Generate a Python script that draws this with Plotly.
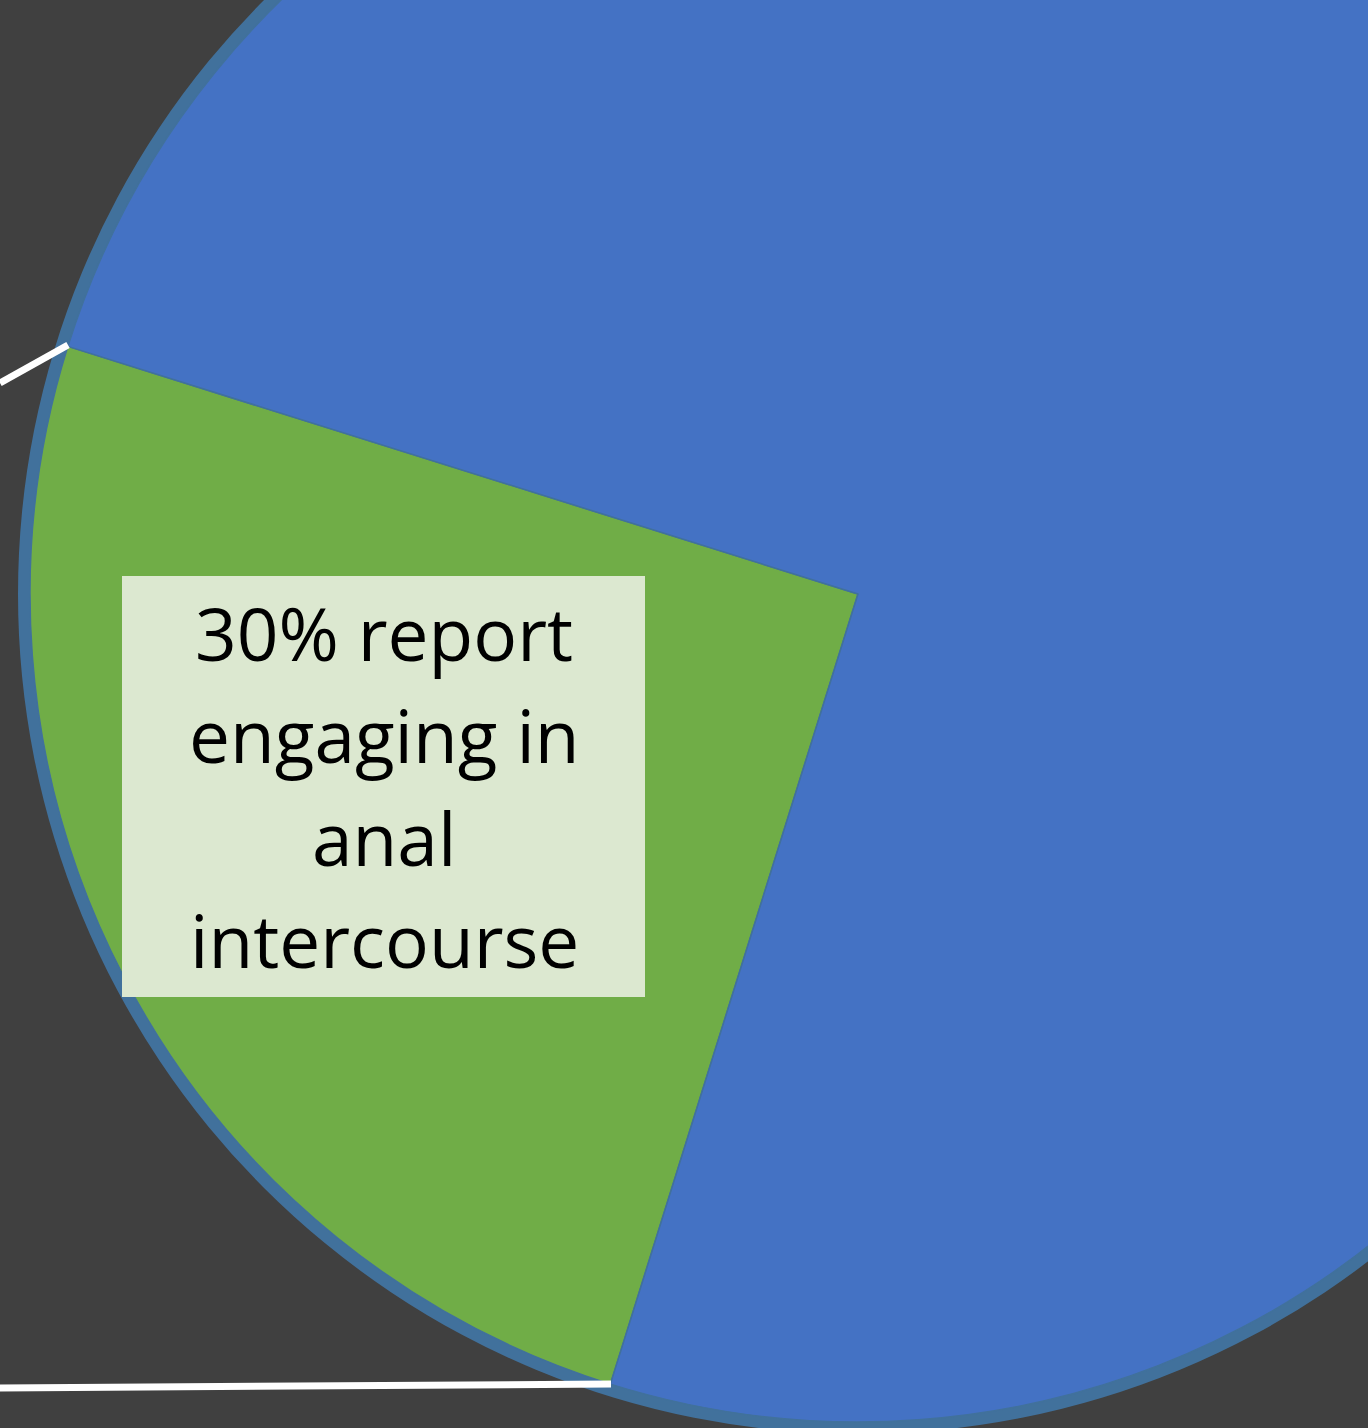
import plotly.graph_objects as go

# ---- data ----
slice_labels = ["Anal intercourse", "Other"]
slice_values = [25, 75]
slice_colors = ["#70AD47", "#4472C4"]
label_lines = ["30% report", "engaging in", "anal", "intercourse"]

# ---- page geometry (figure is larger than the window and shifted) ----
FIG_W, FIG_H = 1700, 1680
SHIFT_TOP = -246          # div offset in the page
BG = "#404040"
BORDER = "#41719C"


def px(vx):
    return vx / FIG_W


def py(vy):
    return 1 - (vy - SHIFT_TOP) / FIG_H


fig = go.Figure()

# outer ring (pie outline band)
fig.add_trace(go.Pie(
    values=[1], labels=["ring"], marker=dict(colors=[BORDER], line=dict(width=0)),
    domain=dict(x=[18 / FIG_W, 1698 / FIG_W], y=[0, 1]),
    textinfo="none", hoverinfo="skip", showlegend=False, sort=False,
))

# main pie
fig.add_trace(go.Pie(
    values=slice_values, labels=slice_labels,
    marker=dict(colors=slice_colors, line=dict(color=BORDER, width=1.5)),
    domain=dict(x=[30 / FIG_W, 1686 / FIG_W], y=[12 / FIG_H, 1668 / FIG_H]),
    direction="clockwise", rotation=197.4, sort=False,
    textinfo="none", hoverinfo="skip", showlegend=False,
))

shapes = [
    dict(type="rect", xref="paper", yref="paper",
         x0=px(122), x1=px(645), y0=py(997), y1=py(576),
         fillcolor="#DCE8D0", line=dict(width=0), layer="above"),
    dict(type="line", xref="paper", yref="paper",
         x0=px(0), y0=py(383), x1=px(68), y1=py(345),
         line=dict(color="white", width=7), layer="above"),
    dict(type="line", xref="paper", yref="paper",
         x0=px(0), y0=py(1388), x1=px(611), y1=py(1384),
         line=dict(color="white", width=7), layer="above"),
]

FONT_SIZE = 73
baselines = [660, 762, 865, 967]
annotations = []
for line, base in zip(label_lines, baselines):
    annotations.append(dict(
        text=line, xref="paper", yref="paper", x=px(384), y=py(base),
        xanchor="center", yanchor="bottom", showarrow=False,
        yshift=-0.33 * FONT_SIZE,
        font=dict(family="Open Sans, sans-serif", size=FONT_SIZE, color="black"),
    ))

fig.update_layout(
    width=FIG_W, height=FIG_H,
    margin=dict(l=0, r=0, t=0, b=0),
    paper_bgcolor=BG, plot_bgcolor=BG,
    shapes=shapes, annotations=annotations,
    showlegend=False,
)

post = (
    "document.documentElement.style.background='" + BG + "';"
    "document.body.style.background='" + BG + "';"
    "document.body.style.margin='0';"
    "document.body.style.overflow='hidden';"
    "document.documentElement.style.overflow='hidden';"
    "var d=document.getElementById('{plot_id}');"
    "d.style.position='absolute';d.style.left='0px';"
    "d.style.top='" + str(SHIFT_TOP) + "px';"
)

fig.write_html("out.html", config={"displayModeBar": False}, post_script=post)
